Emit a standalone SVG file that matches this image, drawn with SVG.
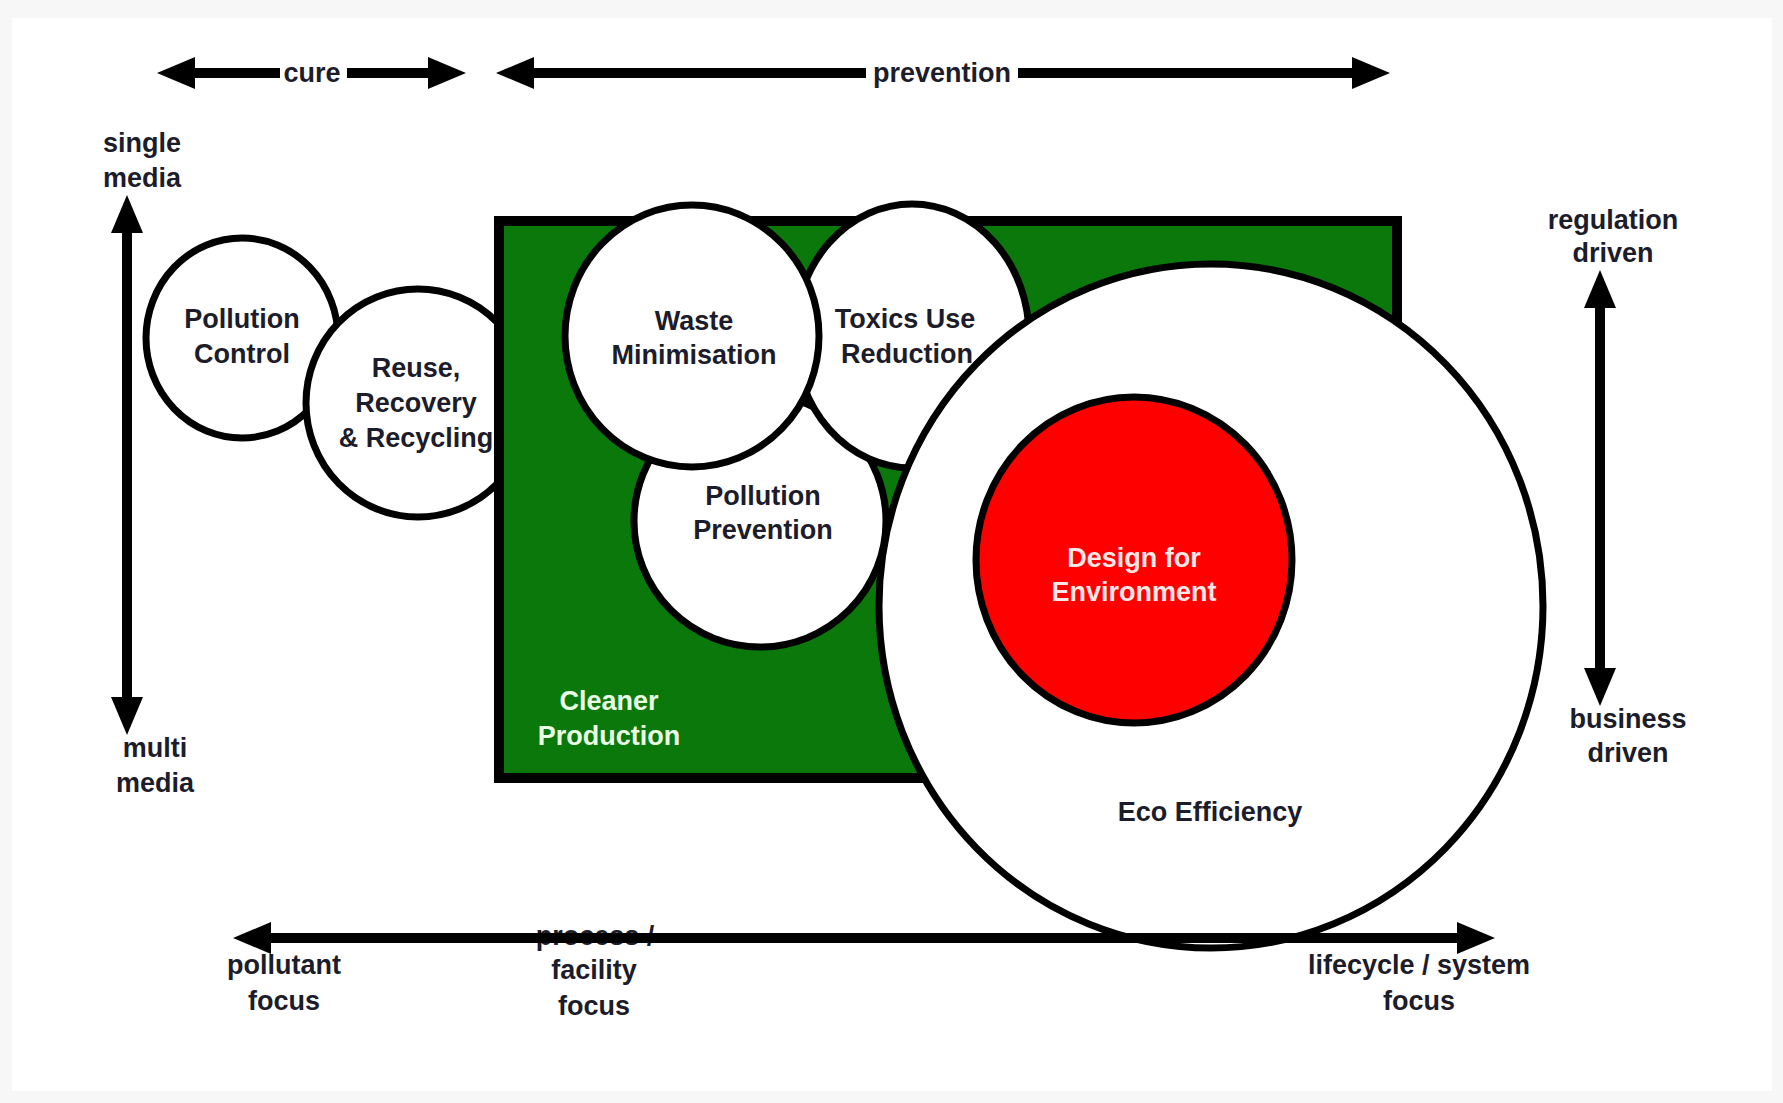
<svg xmlns="http://www.w3.org/2000/svg" width="1783" height="1103" viewBox="0 0 1783 1103">
  <defs>
    <marker id="head" viewBox="0 0 38 32" refX="4" refY="16" markerWidth="38" markerHeight="32" markerUnits="userSpaceOnUse" orient="auto-start-reverse">
      <path d="M0,0 L38,16 L0,32 z" fill="#000"/>
    </marker>
    <style>
      .t { font-family: "Liberation Sans", Arial, sans-serif; font-weight: bold; font-size: 27px; fill: #1c1c2a; text-anchor: middle; }
      .lt { fill: #eaffe6; }
      .rt { fill: #ffe6e6; }
      .circ { fill: #fff; stroke: #000; stroke-width: 7; }
      .ax { stroke: #000; stroke-width: 10; fill: none; marker-start: url(#head); marker-end: url(#head); }
    </style>
  </defs>

  <rect x="0" y="0" width="1783" height="1103" fill="#f7f7f7"/>
  <rect x="12" y="18" width="1760" height="1073" fill="#fff"/>

  <g id="node-pollution-control">
    <ellipse class="circ" cx="242" cy="338" rx="96" ry="100"/>
    <text class="t" x="242" y="328">Pollution</text>
    <text class="t" x="242" y="363">Control</text>
  </g>

  <g id="node-reuse">
    <ellipse class="circ" cx="418" cy="403" rx="112" ry="114"/>
    <text class="t" x="416" y="377">Reuse,</text>
    <text class="t" x="416" y="412">Recovery</text>
    <text class="t" x="416" y="447">&amp; Recycling</text>
  </g>

  <g id="node-cleaner-production">
    <rect x="499" y="221" width="898" height="557" fill="#0a780a" stroke="#000" stroke-width="10"/>
    <text class="t lt" x="609" y="710">Cleaner</text>
    <text class="t lt" x="609" y="745">Production</text>
  </g>

  <g id="node-pollution-prevention">
    <ellipse class="circ" cx="760" cy="521" rx="126" ry="126"/>
    <text class="t" x="763" y="505">Pollution</text>
    <text class="t" x="763" y="539">Prevention</text>
  </g>

  <g id="node-toxics-use-reduction">
    <ellipse class="circ" cx="912" cy="336" rx="117" ry="132"/>
    <text class="t" x="905" y="328">Toxics Use</text>
    <text class="t" x="907" y="363">Reduction</text>
  </g>

  <g id="node-waste-minimisation">
    <ellipse class="circ" cx="692" cy="336" rx="127" ry="131"/>
    <text class="t" x="694" y="330">Waste</text>
    <text class="t" x="694" y="364">Minimisation</text>
  </g>

  <g id="node-eco-efficiency">
    <ellipse class="circ" cx="1211" cy="606" rx="332" ry="342" stroke-width="8"/>
    <text class="t" x="1210" y="821">Eco Efficiency</text>
  </g>

  <g id="node-design-for-environment">
    <ellipse cx="1134" cy="560" rx="158" ry="163" fill="#ff0000" stroke="#000" stroke-width="7"/>
    <text class="t rt" x="1134" y="567">Design for</text>
    <text class="t rt" x="1134" y="601">Environment</text>
  </g>

  <g id="axis-labels">
    <text class="t" x="142" y="152">single</text>
    <text class="t" x="142" y="187">media</text>
    <text class="t" x="155" y="757">multi</text>
    <text class="t" x="155" y="792">media</text>
    <text class="t" x="1613" y="229">regulation</text>
    <text class="t" x="1613" y="262">driven</text>
    <text class="t" x="1628" y="728">business</text>
    <text class="t" x="1628" y="762">driven</text>
    <text class="t" x="595" y="945">process /</text>
    <text class="t" x="284" y="974">pollutant</text>
    <text class="t" x="284" y="1010">focus</text>
    <text class="t" x="594" y="979">facility</text>
    <text class="t" x="594" y="1015">focus</text>
    <text class="t" x="1419" y="974">lifecycle / system</text>
    <text class="t" x="1419" y="1010">focus</text>
  </g>

  <g id="connectors">
    <line class="ax" x1="191" y1="73" x2="432" y2="73"/>
    <line class="ax" x1="530" y1="73" x2="1356" y2="73"/>
    <line class="ax" x1="127" y1="229" x2="127" y2="701"/>
    <line class="ax" x1="1600" y1="304" x2="1600" y2="672"/>
    <line class="ax" x1="267" y1="938" x2="1461" y2="938"/>
  </g>

  <g id="top-labels">
    <rect x="280" y="58" width="67" height="30" fill="#fff"/>
    <text class="t" x="312" y="82">cure</text>
    <rect x="866" y="58" width="152" height="30" fill="#fff"/>
    <text class="t" x="942" y="82">prevention</text>
  </g>
</svg>
